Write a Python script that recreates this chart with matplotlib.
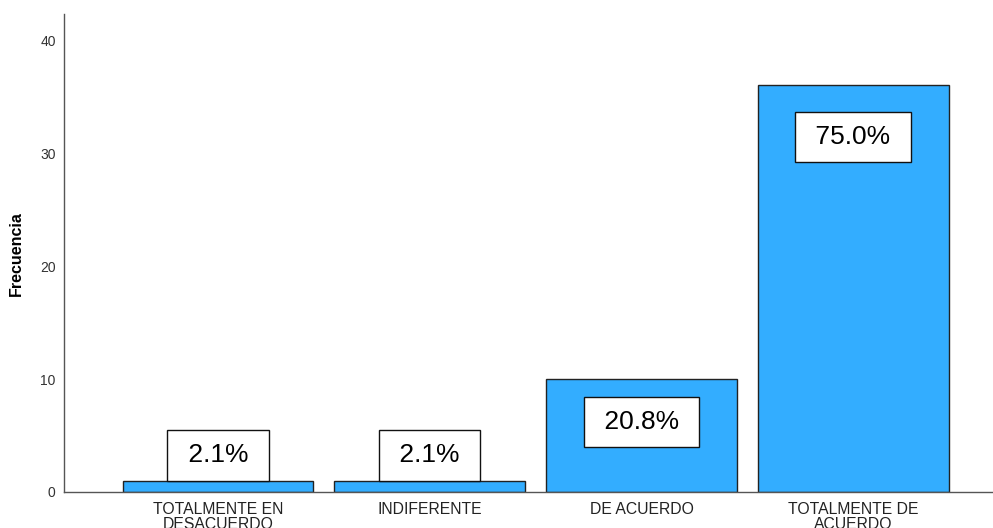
import matplotlib.pyplot as plt
import numpy as np

plt.rcParams["font.family"] = ["Liberation Sans", "DejaVu Sans"]

# datos
categorias = ["TOTALMENTE EN\nDESACUERDO", "INDIFERENTE", "DE ACUERDO", "TOTALMENTE DE\nACUERDO"]
frecuencias = [1, 1, 10, 36]
porcentajes = ["2.1%", "2.1%", "20.8%", "75.0%"]

fig = plt.figure(figsize=(9.93, 5.28), dpi=100)
ax = fig.add_axes([0.0645, 0.0682, 0.9355, 0.905])

x = np.arange(len(categorias))
ax.bar(x, frecuencias, width=0.9, color="#33adff", edgecolor="#222222", linewidth=1.0, zorder=2)

# etiquetas de porcentaje en cajas
fs = 19
pad = 0.5
for xi, v, p in zip(x, frecuencias, porcentajes):
    label = " " + p + " "
    box = dict(boxstyle="square,pad=%.2f" % pad, facecolor="white", edgecolor="#111111", linewidth=1.0)
    if v > 5:
        ax.text(xi, v * 0.97 - 3.5, label, ha="center", va="center", fontsize=fs, bbox=box, zorder=3)
    else:
        ax.annotate(label, xy=(xi, v), xytext=(0, pad * fs), textcoords="offset points",
                    ha="center", va="bottom", fontsize=fs, bbox=box, zorder=3)

ax.set_xlim(-0.727, 3.66)
ax.set_ylim(0, 42.3)
ax.set_yticks([0, 10, 20, 30, 40])
ax.set_xticks(x)
ax.set_xticklabels(categorias, fontsize=11.3, color="#222222", linespacing=1.0)
ax.tick_params(axis="both", length=0, colors="#222222")
ax.tick_params(axis="y", pad=6, labelsize=10, labelcolor="#333333")
ax.tick_params(axis="x", pad=7)

ax.set_ylabel("Frecuencia", fontsize=11.5, fontweight="bold", labelpad=12)

for s in ["top", "right"]:
    ax.spines[s].set_visible(False)
for s in ["left", "bottom"]:
    ax.spines[s].set_color("#555555")
    ax.spines[s].set_linewidth(1.0)

fig.savefig("out.png", dpi=100)
